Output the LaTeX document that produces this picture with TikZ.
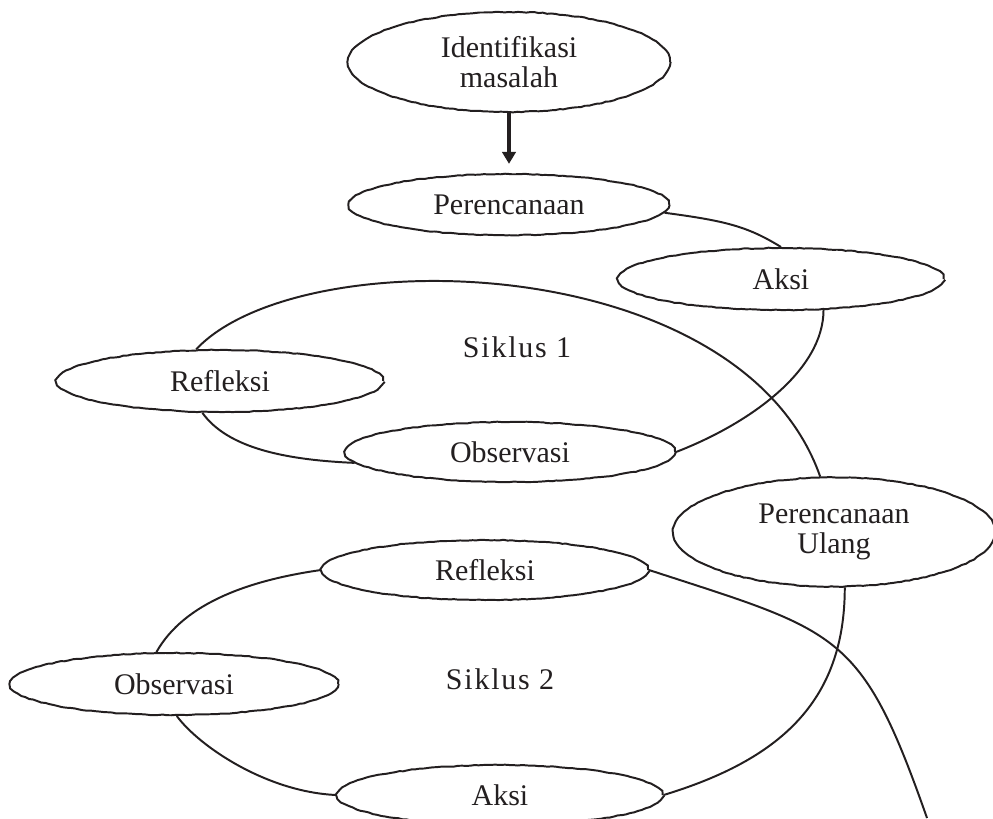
\documentclass[tikz,border=0pt]{standalone}
\usepackage{fontspec}
\setmainfont{Liberation Serif}
\newfontfamily\siklusfont[LetterSpace=6]{Liberation Serif}
\usepackage{xcolor}
\usetikzlibrary{shapes.geometric, arrows.meta, positioning, decorations.pathmorphing}
\definecolor{ink}{RGB}{35,31,32}

\begin{document}
\begin{tikzpicture}[
  x=0.025cm, y=0.025cm,
  bubble/.style={ellipse, draw=ink, fill=white, line width=1.4pt, inner sep=0pt,
    minimum width=8.15cm, minimum height=1.55cm, align=center, text=ink,
    font=\fontsize{21.3}{21.3}\selectfont,
    decorate, decoration={random steps, segment length=3pt, amplitude=0.3pt}},
  cyclename/.style={text=ink, font=\siklusfont\fontsize{21.3}{21.3}\selectfont},
  link/.style={draw=ink, line width=1.4pt},
  arrow/.style={-{Triangle[length=8.5pt, width=9.5pt]}, draw=ink, line width=2.8pt, shorten >=6.5pt}
]
\pgfmathsetseed{7}
\useasboundingbox (0,0) rectangle (993,-818);

\node[bubble, minimum width=8.05cm, minimum height=2.5cm] (ident) at (509,-62) {Identifikasi\\masalah};
\node[bubble, minimum width=8cm, minimum height=1.53cm, below=1.5cm of ident] (plan) {Perencanaan};
\node[bubble, minimum width=8.13cm] (aksiA) at (781,-279) {Aksi};
\node[bubble] (refA) at (220,-381) {Refleksi};
\node[bubble, minimum width=8.25cm, minimum height=1.5cm] (obsA) at (510,-452) {Observasi};
\node[bubble, minimum width=8.05cm, minimum height=2.73cm] (replan) at (834,-532) {Perencanaan\\Ulang};
\node[bubble, minimum height=1.5cm] (refB) at (485,-570) {Refleksi};
\node[bubble, minimum width=8.2cm] (obsB) at (174,-684) {Observasi};
\node[bubble, minimum width=8.13cm, minimum height=1.5cm] (aksiB) at (500,-795) {Aksi};

\node[cyclename] (siklusA) at (517,-347) {Siklus 1};
\node[cyclename] (siklusB) at (500,-679) {Siklus 2};
\coordinate (rimB) at (927,-818);

\draw[arrow] (ident.south) -- (plan.north);

% siklus 1
\draw[link] (plan.-3) .. controls +(60,-8) and +(-34,21) .. (aksiA.north);
\draw[link] (aksiA.-36) .. controls +(0,-60) and +(75,29) .. (obsA.east);
\draw[link] (refA.241) .. controls +(25,-35) and +(-70,3) .. (obsA.184);
\draw[link] (refA.127) .. controls +(103,110) and +(-80,228) .. (replan.104);

% siklus 2
\draw[link] (replan.-79) .. controls +(0,-115) and +(115,35) .. (aksiB.east);
\draw[link] (obsB.-85) .. controls +(22,-30) and +(-70,3) .. (aksiB.west);
\draw[link] (refB.west) .. controls +(-70,-10) and +(28,50) .. (obsB.119);
\draw[link] (refB.east) .. controls +(190,-62) and +(-66,188) .. (rimB);

\end{tikzpicture}
\end{document}
